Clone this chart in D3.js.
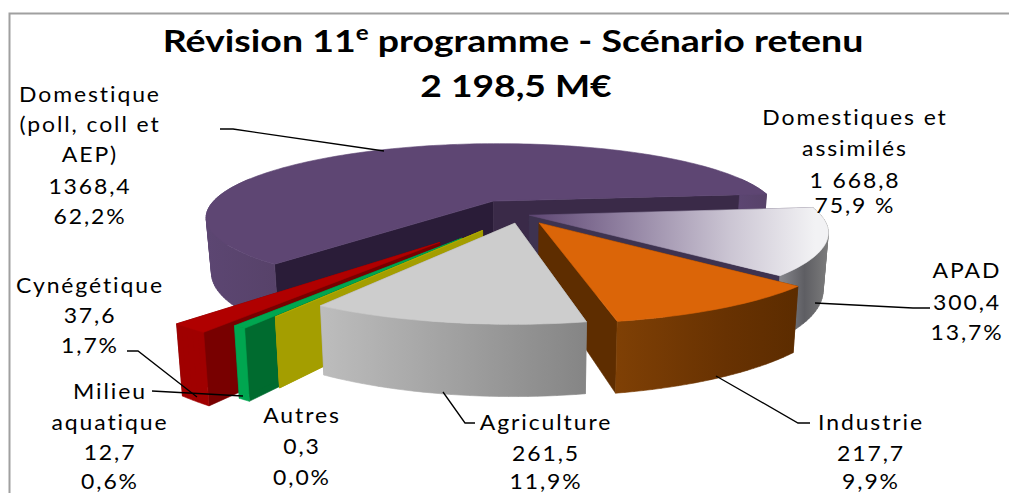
<!DOCTYPE html>
<html><head><meta charset="utf-8">
<script src="https://cdn.jsdelivr.net/npm/d3@7/dist/d3.min.js"></script>
<style>html,body{margin:0;padding:0;background:#fff;overflow:hidden}
svg{display:block}
text{font-family:Lato,"Open Sans",sans-serif;fill:#000}
.lab{font-size:20.5px;letter-spacing:1.7px;text-anchor:middle}
.tt{font-size:31px;font-weight:700;text-anchor:middle}
</style></head><body>
<svg id="c" width="1009" height="493"></svg>
<script>
const categories=["Domestique","APAD","Industrie","Agriculture","Autres","Milieu aquatique","Cynégétique"];
const values=[1368.4,300.4,217.7,261.5,0.3,12.7,37.6];
const percents=["62,2%","13,7%","9,9%","11,9%","0,0%","0,6%","1,7%"];
const titleTotal="2 198,5 M€";
const aggregateLabel=["Domestiques et","assimilés","1 668,8","75,9 %"];

const svg=d3.select("#c");
const rad=d=>d*Math.PI/180;
const cx=521,cy=214.5,R=291,K=75,P=0.215,D=55,LEAN=0.017;
const explode={"Domestique":.21,"APAD":.03,"Industrie":.125,"Agriculture":.115,"Autres":.24,"Milieu aquatique":.35,"Cynégétique":.43};
const drawOrder=["Domestique","APAD","Industrie","Cynégétique","Milieu aquatique","Autres","Agriculture"];
const look={
 "Domestique":{top:"#5E4673",wall:"url(#gPurple)",cutS:"#2A1C38",cutE:"#3A2A48"},
 "APAD":{top:"url(#gApad)",wall:"url(#gSteel)",cutS:"#3E3350",cutE:"#3E3350"},
 "Industrie":{top:"#DB6508",wall:"url(#gOrange)",cutS:"#5E2D00",cutE:"#5E2D00"},
 "Agriculture":{top:"#CDCDCD",wall:"url(#gGrey)",cutS:"#888",cutE:"#999"},
 "Autres":{top:"#B3AC00",wall:"#A49E00",cutS:"#A49E00",cutE:"#A49E00"},
 "Milieu aquatique":{top:"#00A650",wall:"#00A650",cutS:"#006B2F",cutE:"#006B2F"},
 "Cynégétique":{top:"#B00000",wall:"#A00000",cutS:"#780000",cutE:"#780000"}
};
const defs=svg.append("defs");
function grad(id,stops,a){
 const g=defs.append("linearGradient").attr("id",id);
 Object.entries(a||{x1:0,y1:0,x2:1,y2:0}).forEach(([k,v])=>g.attr(k,v));
 stops.forEach(([o,c])=>g.append("stop").attr("offset",o).attr("stop-color",c));
}
grad("gPurple",[[0,"#5C4672"],[1,"#574269"]]);
grad("gSteel",[[0,"#8C8C92"],[.55,"#5E5E63"],[1,"#7C7C7C"]]);
grad("gOrange",[[0,"#7F4005"],[.6,"#683202"],[1,"#5C2C00"]]);
grad("gGrey",[[0,"#BDBDBD"],[1,"#858585"]]);
grad("gApad",[[0,"#5E4673"],[.35,"#9485A4"],[.7,"#CBC5D3"],[1,"#F2F2F4"]],{gradientUnits:"userSpaceOnUse",x1:530,y1:217,x2:815,y2:215});

const pie=d3.pie().sort(null).value(d=>d.value).startAngle(rad(-140)).endAngle(rad(220));
const arcs=pie(categories.map((name,i)=>({name,value:values[i]})));
const line=d3.line().x(d=>d[0]).y(d=>d[1]);

function project(b,e,r,a,z){
 const u=e*Math.sin(b)+r*Math.sin(a), v=e*Math.cos(b)+r*Math.cos(a), w=1+P*v;
 return [cx+R*u/w*(1-LEAN*z), cy-K*v/w+z*D/w];
}
function arcPts(s,f){
 const n=Math.max(2,Math.ceil((f-s)/rad(1.5)));
 const sc=d3.scaleLinear().domain([0,n]).range([s,f]);
 return d3.range(n+1).map(sc);
}
const G=svg.append("g");
drawOrder.forEach(name=>{
 const d=arcs.find(x=>x.data.name===name), st=look[name], e=explode[name];
 const b=(d.startAngle+d.endAngle)/2, p=(r,a,z)=>project(b,e,r,a,z);
 const g=G.append("g");
 const path=(pts,fill)=>g.append("path").attr("d",line(pts)+"Z").attr("fill",fill).attr("stroke",fill).attr("stroke-width",.6);
 const cut=(a,fill)=>path([p(0,a,0),p(1,a,0),p(1,a,1),p(0,a,1)],fill);
 cut(d.startAngle,st.cutS); cut(d.endAngle,st.cutE);
 [[rad(70),rad(290)],[rad(-290),rad(-70)]].forEach(([lo,hi])=>{
  const s=Math.max(lo,d.startAngle),f=Math.min(hi,d.endAngle);
  if(f<=s)return;
  const as=arcPts(s,f);
  // swept wall: one quad per step, all wound the same way, so the silhouette stays convex
  const quads=d3.pairs(as).map(([a0,a1])=>{
   const q=[p(1,a0,0),p(1,a1,0),p(1,a1,1),p(1,a0,1)];
   return d3.polygonArea(q)<0?q.reverse():q;
  });
  g.append("path").attr("d",quads.map(q=>line(q)+"Z").join("")).attr("fill",st.wall).attr("stroke",st.wall).attr("stroke-width",.6);
 });
 const as=arcPts(d.startAngle,d.endAngle);
 path([p(0,0,0)].concat(as.map(a=>p(1,a,0))),st.top);
});

svg.append("path").attr("d","M9.5,493V13.5H1009").attr("fill","none").attr("stroke","#A0A0A0").attr("stroke-width",2);

const t1=svg.append("text").attr("class","tt").attr("transform","translate(513,52) scale(1.21,1)");
t1.append("tspan").text("Révision 11");
t1.append("tspan").attr("dy",-12).style("font-size","20px").text("e");
t1.append("tspan").attr("dy",12).text(" programme - Scénario retenu");
svg.append("text").attr("class","tt").attr("transform","translate(516,97) scale(1.2,1)").text(titleTotal);

const fmt=v=>d3.format(".1f")(v).replace(".",",");
const val=n=>fmt(values[categories.indexOf(n)]);
const pct=n=>percents[categories.indexOf(n)];
function label(x,lines,ys){lines.forEach((s,i)=>svg.append("text").attr("class","lab").attr("transform",`translate(${x},${ys[i]}) scale(1.12,1)`).text(s));}
label(90,["Domestique","(poll, coll et","AEP)",val("Domestique"),pct("Domestique")],[102,132,162,194,224]);
label(855,aggregateLabel,[125,156,188,213]);
label(967,["APAD",val("APAD"),pct("APAD")],[278,310,340]);
label(871,["Industrie",val("Industrie"),pct("Industrie")],[430,461,489]);
label(546,["Agriculture",val("Agriculture"),pct("Agriculture")],[430,461,489]);
label(302,["Autres",val("Autres"),pct("Autres")],[423,454,485]);
label(110,["Milieu","aquatique",val("Milieu aquatique"),pct("Milieu aquatique")],[399,430,460,489]);
label(90,["Cynégétique",val("Cynégétique"),pct("Cynégétique")],[293,323,353]);

[[[220,129],[233,129],[384,151]],
 [[815,303],[913,308],[930,308]],
 [[716,376],[798,423],[810,423]],
 [[443,392],[465,423],[475,423]],
 [[127,351],[138,351],[197,397]],
 [[152,391],[243,396]]
].forEach(l=>svg.append("path").attr("d",line(l)).attr("fill","none").attr("stroke","#000").attr("stroke-width",1.3));
</script></body></html>
